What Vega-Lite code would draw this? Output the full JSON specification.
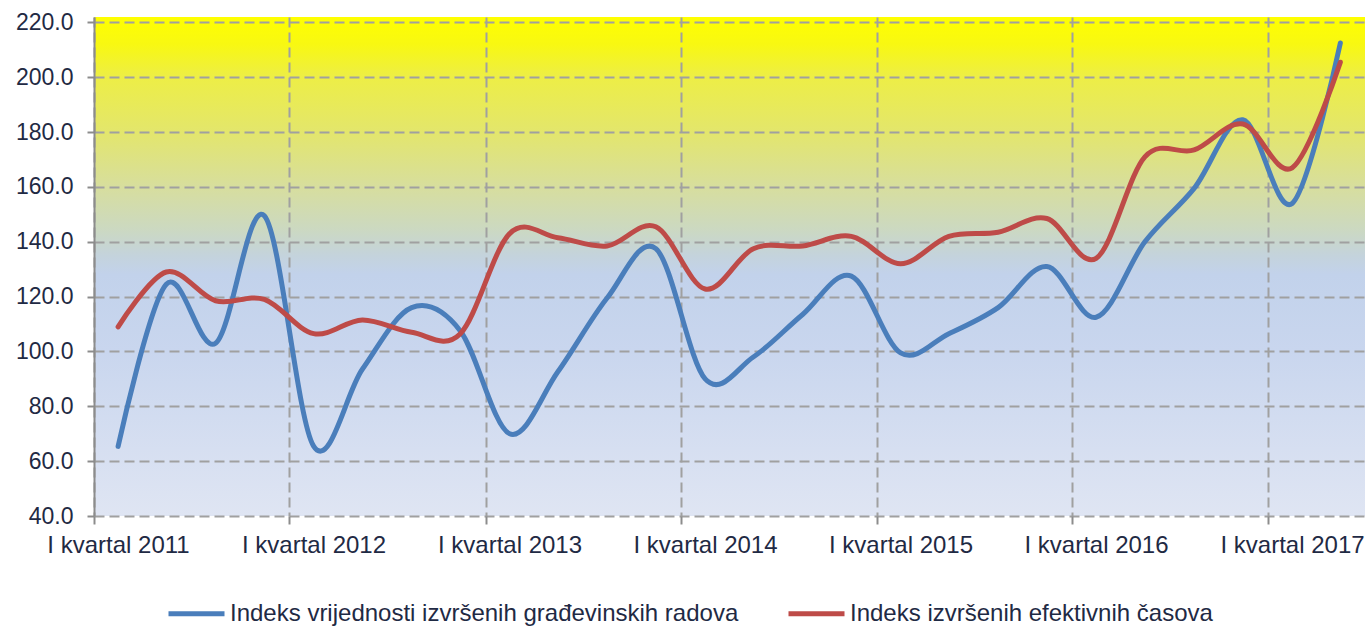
{
  "$schema": "https://vega.github.io/schema/vega-lite/v6.json",
  "width": 1271,
  "height": 499,
  "autosize": "none",
  "padding": {"left": 94, "top": 17, "right": 1, "bottom": 110},
  "background": "white",
  "view": {
    "stroke": null,
    "fill": {
      "gradient": "linear",
      "x1": 0, "y1": 0, "x2": 0, "y2": 1,
      "stops": [
        {"offset": 0, "color": "#FFFF00"},
        {"offset": 0.055, "color": "#F8F812"},
        {"offset": 0.121, "color": "#EDEE46"},
        {"offset": 0.231, "color": "#E3E66C"},
        {"offset": 0.341, "color": "#D7DE9E"},
        {"offset": 0.423, "color": "#CCD9C0"},
        {"offset": 0.478, "color": "#C4D3DC"},
        {"offset": 0.516, "color": "#C2D2EB"},
        {"offset": 0.67, "color": "#C9D6EE"},
        {"offset": 1, "color": "#DFE5F3"}
      ]
    }
  },
  "datasets": {
    "series": [
      {"q": "2011-02-15", "s": "Indeks vrijednosti izvršenih građevinskih radova", "v": 65.4},
      {"q": "2011-05-16", "s": "Indeks vrijednosti izvršenih građevinskih radova", "v": 124.5},
      {"q": "2011-08-16", "s": "Indeks vrijednosti izvršenih građevinskih radova", "v": 103},
      {"q": "2011-11-15", "s": "Indeks vrijednosti izvršenih građevinskih radova", "v": 149.5},
      {"q": "2012-02-15", "s": "Indeks vrijednosti izvršenih građevinskih radova", "v": 65.5},
      {"q": "2012-05-16", "s": "Indeks vrijednosti izvršenih građevinskih radova", "v": 93.5},
      {"q": "2012-08-16", "s": "Indeks vrijednosti izvršenih građevinskih radova", "v": 116},
      {"q": "2012-11-15", "s": "Indeks vrijednosti izvršenih građevinskih radova", "v": 107.5},
      {"q": "2013-02-15", "s": "Indeks vrijednosti izvršenih građevinskih radova", "v": 70},
      {"q": "2013-05-16", "s": "Indeks vrijednosti izvršenih građevinskih radova", "v": 92.6},
      {"q": "2013-08-16", "s": "Indeks vrijednosti izvršenih građevinskih radova", "v": 119.5},
      {"q": "2013-11-15", "s": "Indeks vrijednosti izvršenih građevinskih radova", "v": 137.5},
      {"q": "2014-02-15", "s": "Indeks vrijednosti izvršenih građevinskih radova", "v": 90},
      {"q": "2014-05-16", "s": "Indeks vrijednosti izvršenih građevinskih radova", "v": 98},
      {"q": "2014-08-16", "s": "Indeks vrijednosti izvršenih građevinskih radova", "v": 113.5},
      {"q": "2014-11-15", "s": "Indeks vrijednosti izvršenih građevinskih radova", "v": 127.5},
      {"q": "2015-02-15", "s": "Indeks vrijednosti izvršenih građevinskih radova", "v": 99.5},
      {"q": "2015-05-16", "s": "Indeks vrijednosti izvršenih građevinskih radova", "v": 106.5},
      {"q": "2015-08-16", "s": "Indeks vrijednosti izvršenih građevinskih radova", "v": 116},
      {"q": "2015-11-15", "s": "Indeks vrijednosti izvršenih građevinskih radova", "v": 131},
      {"q": "2016-02-15", "s": "Indeks vrijednosti izvršenih građevinskih radova", "v": 112.5},
      {"q": "2016-05-16", "s": "Indeks vrijednosti izvršenih građevinskih radova", "v": 140},
      {"q": "2016-08-16", "s": "Indeks vrijednosti izvršenih građevinskih radova", "v": 159.5},
      {"q": "2016-11-15", "s": "Indeks vrijednosti izvršenih građevinskih radova", "v": 184.5},
      {"q": "2017-02-15", "s": "Indeks vrijednosti izvršenih građevinskih radova", "v": 154},
      {"q": "2017-05-16", "s": "Indeks vrijednosti izvršenih građevinskih radova", "v": 212.5},
      {"q": "2011-02-15", "s": "Indeks izvršenih efektivnih časova", "v": 109},
      {"q": "2011-05-16", "s": "Indeks izvršenih efektivnih časova", "v": 129},
      {"q": "2011-08-16", "s": "Indeks izvršenih efektivnih časova", "v": 118.5},
      {"q": "2011-11-15", "s": "Indeks izvršenih efektivnih časova", "v": 119},
      {"q": "2012-02-15", "s": "Indeks izvršenih efektivnih časova", "v": 106.5},
      {"q": "2012-05-16", "s": "Indeks izvršenih efektivnih časova", "v": 111.5},
      {"q": "2012-08-16", "s": "Indeks izvršenih efektivnih časova", "v": 107},
      {"q": "2012-11-15", "s": "Indeks izvršenih efektivnih časova", "v": 106.5},
      {"q": "2013-02-15", "s": "Indeks izvršenih efektivnih časova", "v": 143},
      {"q": "2013-05-16", "s": "Indeks izvršenih efektivnih časova", "v": 141.5},
      {"q": "2013-08-16", "s": "Indeks izvršenih efektivnih časova", "v": 138.5},
      {"q": "2013-11-15", "s": "Indeks izvršenih efektivnih časova", "v": 145.5},
      {"q": "2014-02-15", "s": "Indeks izvršenih efektivnih časova", "v": 122.8},
      {"q": "2014-05-16", "s": "Indeks izvršenih efektivnih časova", "v": 137.5},
      {"q": "2014-08-16", "s": "Indeks izvršenih efektivnih časova", "v": 138.5},
      {"q": "2014-11-15", "s": "Indeks izvršenih efektivnih časova", "v": 142},
      {"q": "2015-02-15", "s": "Indeks izvršenih efektivnih časova", "v": 132},
      {"q": "2015-05-16", "s": "Indeks izvršenih efektivnih časova", "v": 142},
      {"q": "2015-08-16", "s": "Indeks izvršenih efektivnih časova", "v": 143.5},
      {"q": "2015-11-15", "s": "Indeks izvršenih efektivnih časova", "v": 148.5},
      {"q": "2016-02-15", "s": "Indeks izvršenih efektivnih časova", "v": 134},
      {"q": "2016-05-16", "s": "Indeks izvršenih efektivnih časova", "v": 171},
      {"q": "2016-08-16", "s": "Indeks izvršenih efektivnih časova", "v": 173.5},
      {"q": "2016-11-15", "s": "Indeks izvršenih efektivnih časova", "v": 183},
      {"q": "2017-02-15", "s": "Indeks izvršenih efektivnih časova", "v": 167},
      {"q": "2017-05-16", "s": "Indeks izvršenih efektivnih časova", "v": 205.5}
    ]
  },
  "data": {"name": "series"},
  "mark": {"type": "line", "interpolate": "cardinal", "strokeWidth": 5, "strokeCap": "round"},
  "encoding": {
    "x": {
      "field": "q", "type": "temporal", "title": null,
      "scale": {"domain": [{"year": 2011, "month": 1, "date": 1}, {"year": 2017, "month": 7, "date": 1}]},
      "axis": {
        "values": [
          {"year": 2011, "month": 1, "date": 1},
          {"year": 2012, "month": 1, "date": 1},
          {"year": 2013, "month": 1, "date": 1},
          {"year": 2014, "month": 1, "date": 1},
          {"year": 2015, "month": 1, "date": 1},
          {"year": 2016, "month": 1, "date": 1},
          {"year": 2017, "month": 1, "date": 1}
        ],
        "labelExpr": "'I kvartal ' + timeFormat(datum.value, '%Y')",
        "labelOffset": 24,
        "labelFlush": false,
        "labelAlign": "center",
        "labelPadding": 9,
        "labelFontSize": 24,
        "tickSize": 8,
        "domain": false,
        "grid": true
      }
    },
    "y": {
      "field": "v", "type": "quantitative", "title": null,
      "scale": {"domain": [40, 222], "nice": false, "zero": false},
      "axis": {
        "values": [40, 60, 80, 100, 120, 140, 160, 180, 200, 220],
        "format": ".1f",
        "tickSize": 7,
        "labelPadding": 14,
        "labelFontSize": 23,
        "domain": true,
        "grid": true
      }
    },
    "color": {
      "field": "s", "type": "nominal",
      "sort": ["Indeks vrijednosti izvršenih građevinskih radova", "Indeks izvršenih efektivnih časova"],
      "scale": {
        "domain": ["Indeks vrijednosti izvršenih građevinskih radova", "Indeks izvršenih efektivnih časova"],
        "range": ["#4A7EBB", "#BE4B48"]
      },
      "legend": {
        "orient": "none",
        "legendX": 72,
        "legendY": 566,
        "direction": "horizontal",
        "title": null,
        "symbolType": "stroke",
        "symbolSize": 3136,
        "symbolStrokeWidth": 5,
        "labelFontSize": 24,
        "labelFont": "Liberation Sans",
        "labelColor": "#1F2A44",
        "labelLimit": 0,
        "labelOffset": 3,
        "columnPadding": 39
      }
    }
  },
  "config": {
    "axis": {
      "labelFont": "Liberation Sans",
      "labelColor": "#1F2A44",
      "gridColor": "#A0A0A0",
      "gridDash": [10, 5],
      "gridWidth": 2,
      "tickColor": "#8C8C8C",
      "tickWidth": 2,
      "domainColor": "#8C8C8C",
      "domainWidth": 2
    }
  }
}
